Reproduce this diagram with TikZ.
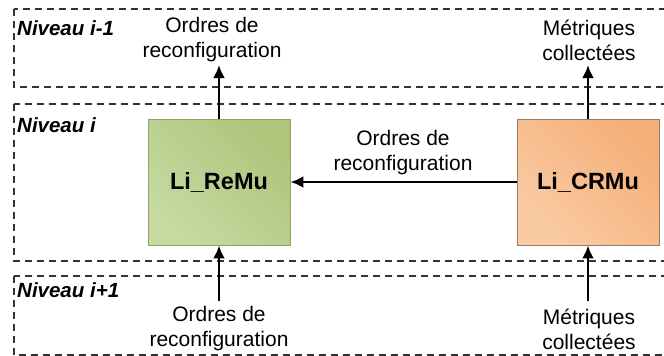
\documentclass[tikz,border=0pt]{standalone}
\usepackage{fontspec}
\setmainfont{Liberation Sans}
\usetikzlibrary{arrows.meta,positioning}

\definecolor{remulight}{HTML}{C6DAA2}
\definecolor{remudark}{HTML}{AEC57B}
\definecolor{remuline}{HTML}{8FA56A}
\definecolor{crmulight}{HTML}{FACBA3}
\definecolor{crmudark}{HTML}{F4AF78}
\definecolor{crmuline}{HTML}{9A7D66}

\tikzset{
  band/.style={draw=black!80, line width=1.2pt, dash pattern=on 7pt off 5pt},
  levellabel/.style={anchor=west, inner sep=0pt, font=\fontsize{20.5}{24}\selectfont\bfseries\itshape},
  msg/.style={align=center, inner sep=0pt, font=\fontsize{21}{25}\selectfont},
  module/.style={rectangle, minimum width=142pt, minimum height=126pt, line width=0.9pt,
    font=\fontsize{23.5}{28}\selectfont\bfseries, shading=axis, shading angle=-45},
  flow/.style={line width=2.5pt, -{Latex[length=13pt,width=12pt]}}
}

\begin{document}
\begin{tikzpicture}[x=1pt,y=-1pt]
\clip (0,0) rectangle (664,356);
\fill[white] (0,0) rectangle (664,356);

% the three levels
\draw[band] (14,9) rectangle (700,87);
\draw[band] (14,104) rectangle (700,261);
\draw[band] (14,276) rectangle (700,355);

\node[levellabel] (lvlup) at (17,28) {Niveau i-1};
\node[levellabel] (lvl) at (17,125) {Niveau i};
\node[levellabel] (lvldown) at (17,290) {Niveau i+1};

% modules of level i
\node[module, draw=remuline, top color=remudark, bottom color=remulight, shading angle=-45]
  at (219,182) (remu) {Li\_ReMu};
\node[module, draw=crmuline, top color=crmudark, bottom color=crmulight, shading angle=-45]
  at (588,182) (crmu) {Li\_CRMu};

% messages
\node[msg] at (212,40) (ordup) {Ordres de\\reconfiguration};
\node[msg] at (589,40) (metup) {Métriques\\collectées};
\node[msg] at (403,153) (ordmid) {Ordres de\\reconfiguration};
\node[msg] at (219,329) (orddown) {Ordres de\\reconfiguration};
\node[msg] at (589,329) (metdown) {Métriques\\collectées};

\coordinate (ordtip) at (219,65);
\coordinate (mettip) at (588,65);
\coordinate (ordfoot) at (219,301);
\coordinate (metfoot) at (588,301);

\draw[flow] (remu.north) -- (ordtip);
\draw[flow] (crmu.north) -- (mettip);
\draw[flow] (crmu.west) -- (remu.east);
\draw[flow] (ordfoot) -- (remu.south);
\draw[flow] (metfoot) -- (crmu.south);

\end{tikzpicture}
\end{document}
